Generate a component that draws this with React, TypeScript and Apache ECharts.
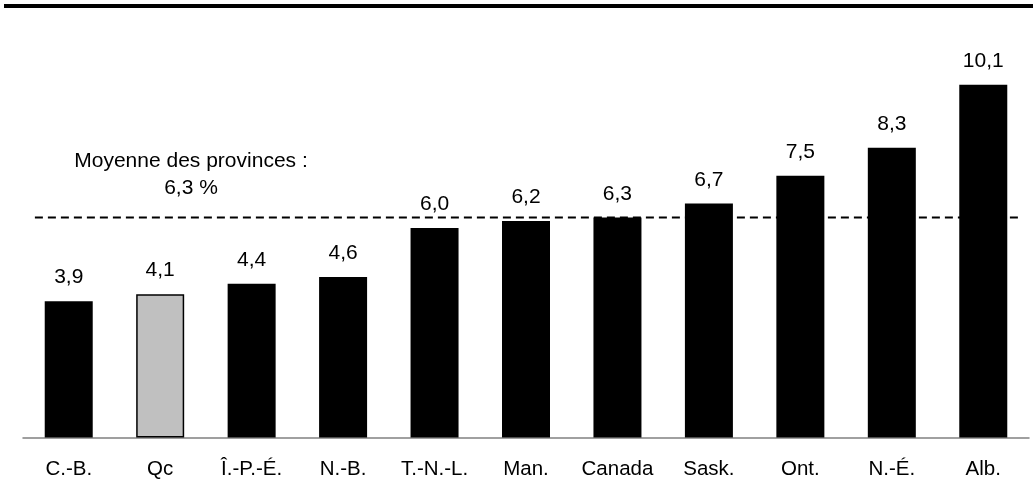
import React, { useEffect, useRef } from "react";
import * as echarts from "echarts";

const categories = ["C.-B.", "Qc", "Î.-P.-É.", "N.-B.", "T.-N.-L.", "Man.", "Canada", "Sask.", "Ont.", "N.-É.", "Alb."];
const values = [3.9, 4.1, 4.4, 4.6, 6.0, 6.2, 6.3, 6.7, 7.5, 8.3, 10.1];
const highlighted = "Qc";
const averageValue = 6.3;
const averageLabel = "Moyenne des provinces :\n6,3 %";
const averageSpan = [0.13, 10.9];

const FONT = "'Liberation Sans', Arial, sans-serif";

export default function App() {
  const ref = useRef<HTMLDivElement>(null);
  useEffect(() => {
    if (!ref.current) return;
    const chart = echarts.init(ref.current, undefined, { renderer: "svg" });
    chart.setOption({
      animation: false,
      grid: { left: 23, right: 4, top: 18.5, bottom: 61.5, containLabel: false },
      xAxis: [
        {
          type: "category",
          data: categories,
          axisLine: { lineStyle: { color: "#808080", width: 1.5 } },
          axisTick: { show: false },
          axisLabel: { color: "#000", fontSize: 20.5, fontFamily: FONT, margin: 19, interval: 0 },
        },
        { type: "value", min: 0, max: categories.length, show: false },
      ],
      yAxis: { type: "value", min: 0, max: 12, show: false, splitLine: { show: false } },
      series: [
        {
          type: "bar",
          barWidth: 48,
          data: values.map((v, i) => ({
            value: v,
            itemStyle:
              categories[i] === highlighted
                ? { color: "#c0c0c0", borderColor: "#000", borderWidth: 1.5 }
                : { color: "#000" },
          })),
          label: {
            show: true,
            position: "top",
            distance: 15,
            color: "#000",
            fontSize: 21,
            fontFamily: FONT,
            formatter: (p: any) => p.value.toFixed(1).replace(".", ","),
          },
        },
        {
          type: "line",
          xAxisIndex: 1,
          data: [
            [averageSpan[0], averageValue],
            [averageSpan[1], averageValue],
          ],
          symbol: "none",
          lineStyle: { color: "#000", width: 2, type: [8, 5] },
          z: 5,
        },
      ],
      graphic: [
        { type: "rect", shape: { x: 4, y: 4, width: 1029, height: 4 }, style: { fill: "#000" } },
        {
          type: "text",
          x: 191,
          y: 146,
          style: {
            text: averageLabel,
            fontSize: 21,
            fontFamily: FONT,
            fill: "#000",
            align: "center",
            lineHeight: 27,
          },
        },
      ],
    });
    return () => chart.dispose();
  }, []);
  return <div ref={ref} style={{ position: "fixed", left: 0, top: 0, width: 1033, height: 499 }} />;
}
